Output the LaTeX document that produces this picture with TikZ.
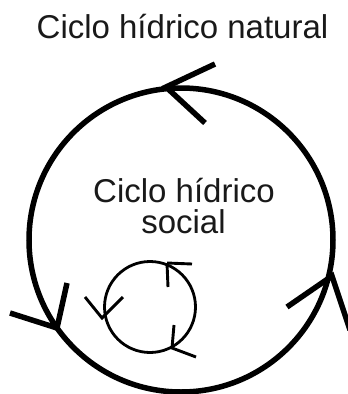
\documentclass[tikz,border=0pt]{standalone}
\usepackage{fontspec}
\setmainfont{Liberation Sans}
\begin{document}
\begin{tikzpicture}[x=1pt,y=-1pt,
  bigring/.style={circle,draw,line width=5.5pt,inner sep=0pt,minimum size=304pt},
  smallring/.style={circle,draw,line width=2.8pt,inner sep=0pt,minimum size=91pt},
  bigarrow/.style={line width=5.5pt,line join=miter},
  smallarrow/.style={line width=2.9pt},
  label/.style={font=\fontsize{33}{31}\selectfont,inner sep=0pt,anchor=base,text=black!90}]
\useasboundingbox (0,0) rectangle (348,394);
\node[label] (title) at (182.5,38) {Ciclo hídrico natural};
\node[bigring] (big) at (181,240) {};
\node[label] (soc1) at (184,202) {Ciclo hídrico};
\node[label] (soc2) at (183.5,233) {social};
\node[smallring] (small) at (150,307) {};
% big ring arrows
\coordinate (ta) at (215,64);
\coordinate (tv) at (166,87);
\coordinate (tb) at (205,123);
\draw[bigarrow] (ta) -- (tv) -- (tb);
\coordinate (la) at (10,313);
\coordinate (lv) at (57,328);
\coordinate (lb) at (67,283);
\draw[bigarrow] (la) -- (lv) -- (lb);
\coordinate (ra) at (287,307);
\coordinate (rv) at (332,276);
\coordinate (rb) at (350,330);
\draw[bigarrow] (ra) -- (rv) -- (rb);
% small ring arrows
\coordinate (sta) at (192,264);
\coordinate (stv) at (167,263);
\coordinate (stb) at (168,287);
\draw[smallarrow] (sta) -- (stv);
\draw[smallarrow] (stv) -- (stb);
\coordinate (sla) at (85,297);
\coordinate (slv) at (102,318);
\coordinate (slb) at (123,297);
\draw[smallarrow] (sla) -- (slv) -- (slb);
\coordinate (sba) at (174,325);
\coordinate (sbv) at (172,348);
\coordinate (sbb) at (196,357);
\draw[smallarrow] (sba) -- (sbv) -- (sbb);
\end{tikzpicture}
\end{document}
